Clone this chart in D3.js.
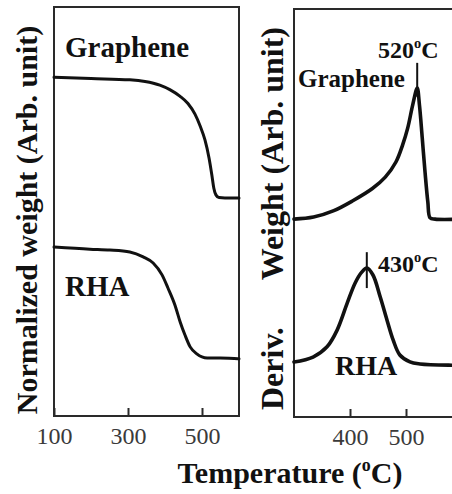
<!DOCTYPE html>
<html>
<head>
<meta charset="utf-8">
<script src="https://cdn.jsdelivr.net/npm/d3@7"></script>
<style>
  html, body { margin: 0; padding: 0; background: #fff; }
  svg { display: block; }
  text { font-family: "Liberation Serif", "Times New Roman", serif; }
</style>
</head>
<body>
<svg id="chart" width="452" height="494"></svg>
<script>
// TGA curves (temperature in °C, normalized weight in arbitrary units)
const grapheneTgaTemp = [100, 200, 305, 346, 386, 413, 440, 462, 481, 495, 508, 519, 527, 532, 538, 546, 562, 600];
const grapheneTgaWeight = [82.8, 82.5, 82.2, 81.8, 80.9, 79.8, 78.2, 76.4, 73.8, 70.9, 67.5, 63.1, 58.7, 55.7, 54.0, 53.4, 53.3, 53.3];
const rhaTgaTemp = [100, 197, 251, 305, 341, 368, 392, 408, 427, 441, 454, 468, 486, 514, 549, 597, 600];
const rhaTgaWeight = [41.3, 40.8, 40.6, 40.1, 38.9, 37.4, 34.5, 31.3, 27.1, 23.0, 19.8, 16.9, 15.2, 14.2, 14.2, 14.0, 14.0];

// DTG curves (temperature in °C, derivative weight in arbitrary units)
const grapheneDtgTemp = [300, 335, 370, 405, 440, 463, 482, 494, 503, 512, 520, 524, 529, 534, 539, 543, 552, 600];
const grapheneDtgValue = [48.5, 49.0, 50.5, 53.0, 56.0, 58.8, 62.5, 66.7, 70.8, 76.5, 80.6, 76.5, 68.4, 60.0, 52.7, 48.8, 48.5, 48.5];
const rhaDtgTemp = [300, 334, 359, 377, 395, 409, 421, 430, 441, 454, 466, 477, 489, 507, 525, 582, 600];
const rhaDtgValue = [13.5, 14.7, 17.2, 21.3, 27.9, 32.8, 35.5, 36.5, 34.8, 29.4, 23.8, 18.9, 15.2, 13.5, 13.0, 12.7, 12.7];

// Peak annotations
const peakTemps = [520, 430];
const peakLabels = ["520", "430"];
const peakMarkTop = [86.8, 40.4];
const peakMarkBottom = [78.5, 31.6];

// Axis ticks
const leftTicks = [100, 300, 500];
const rightTicks = [400, 500];

const svg = d3.select("#chart");
const ink = "#111";
const frame = "#2a2a2a";

// Scales for the two panels
const xL = d3.scaleLinear().domain([100, 600]).range([54, 239]);
const yL = d3.scaleLinear().domain([0, 100]).range([416, 7]);
const xR = d3.scaleLinear().domain([300, 600]).range([294, 462]);
const yR = d3.scaleLinear().domain([0, 100]).range([417, 9]);

// Panel frames
svg.append("rect")
  .attr("x", xL(100)).attr("y", yL(100))
  .attr("width", xL(600) - xL(100)).attr("height", yL(0) - yL(100))
  .attr("fill", "none").attr("stroke", frame).attr("stroke-width", 2);
svg.append("rect")
  .attr("x", xR(300)).attr("y", yR(100))
  .attr("width", xR(600) - xR(300) + 20).attr("height", yR(0) - yR(100))
  .attr("fill", "none").attr("stroke", frame).attr("stroke-width", 2);

// Bottom axes with inward ticks
function styleAxis(g) {
  g.select(".domain").remove();
  g.selectAll(".tick line").attr("stroke", frame).attr("stroke-width", 2);
  g.selectAll(".tick text")
    .attr("fill", "#3a3a3a")
    .style("font-size", "24px");
}
svg.append("g")
  .attr("transform", `translate(0,${yL(0)})`)
  .call(d3.axisBottom(xL).tickValues(leftTicks).tickSize(-8).tickPadding(11).tickFormat(d3.format("d")))
  .call(styleAxis);
svg.append("g")
  .attr("transform", `translate(0,${yR(0)})`)
  .call(d3.axisBottom(xR).tickValues(rightTicks).tickSize(-8).tickPadding(11).tickFormat(d3.format("d")))
  .call(styleAxis);

// Curves
function drawCurve(xs, ys, temps, vals, width, curve) {
  const line = d3.line()
    .x((d, i) => xs(temps[i]))
    .y((d, i) => ys(d))
    .curve(curve);
  svg.append("path")
    .datum(vals)
    .attr("d", line)
    .attr("fill", "none")
    .attr("stroke", ink)
    .attr("stroke-width", width)
    .attr("stroke-linejoin", "round")
    .attr("stroke-linecap", "round");
}
drawCurve(xL, yL, grapheneTgaTemp, grapheneTgaWeight, 3, d3.curveMonotoneX);
drawCurve(xL, yL, rhaTgaTemp, rhaTgaWeight, 3, d3.curveMonotoneX);
drawCurve(xR, yR, grapheneDtgTemp, grapheneDtgValue, 3.6, d3.curveCatmullRom.alpha(0.5));
drawCurve(xR, yR, rhaDtgTemp, rhaDtgValue, 3.6, d3.curveCatmullRom.alpha(0.5));

// Peak marks and labels
peakTemps.forEach((t, i) => {
  svg.append("line")
    .attr("x1", xR(t)).attr("x2", xR(t))
    .attr("y1", yR(peakMarkTop[i])).attr("y2", yR(peakMarkBottom[i]))
    .attr("stroke", ink).attr("stroke-width", 2);
});
function degreeLabel(x, y, num, size) {
  const t = svg.append("text")
    .attr("x", x).attr("y", y)
    .attr("font-weight", "bold").attr("fill", ink)
    .style("font-size", size + "px");
  t.append("tspan").text(num);
  t.append("tspan").text("o").style("font-size", (size * 0.6) + "px").attr("dy", -size * 0.4);
  t.append("tspan").text("C").attr("dy", size * 0.4);
  return t;
}
degreeLabel(378, 58, peakLabels[0], 24);
degreeLabel(378, 272, peakLabels[1], 24);

// Series labels
function label(x, y, txt, size) {
  svg.append("text")
    .attr("x", x).attr("y", y)
    .attr("font-weight", "bold").attr("fill", ink)
    .style("font-size", size + "px")
    .text(txt);
}
label(65, 57, "Graphene", 29);
label(65, 296, "RHA", 29);
label(298, 87, "Graphene", 25);
label(335, 375, "RHA", 28);

// Axis titles
const xt = svg.append("text")
  .attr("x", 290).attr("y", 483)
  .attr("text-anchor", "middle")
  .attr("font-weight", "bold").attr("fill", ink)
  .style("font-size", "30px");
xt.append("tspan").text("Temperature (");
xt.append("tspan").text("o").style("font-size", "18px").attr("dy", -12);
xt.append("tspan").text("C)").attr("dy", 12);

svg.append("text")
  .attr("transform", "translate(37,220) rotate(-90)")
  .attr("text-anchor", "middle")
  .attr("font-weight", "bold").attr("fill", ink)
  .style("font-size", "30px")
  .text("Normalized weight (Arb. unit)");

svg.append("text")
  .attr("transform", "translate(283,410) rotate(-90)")
  .attr("text-anchor", "start")
  .attr("font-weight", "bold").attr("fill", ink)
  .style("font-size", "32px")
  .text("Deriv.");
svg.append("text")
  .attr("transform", "translate(283,27) rotate(-90)")
  .attr("text-anchor", "end")
  .attr("font-weight", "bold").attr("fill", ink)
  .style("font-size", "32px")
  .text("Weight (Arb. unit)");
</script>
</body>
</html>
